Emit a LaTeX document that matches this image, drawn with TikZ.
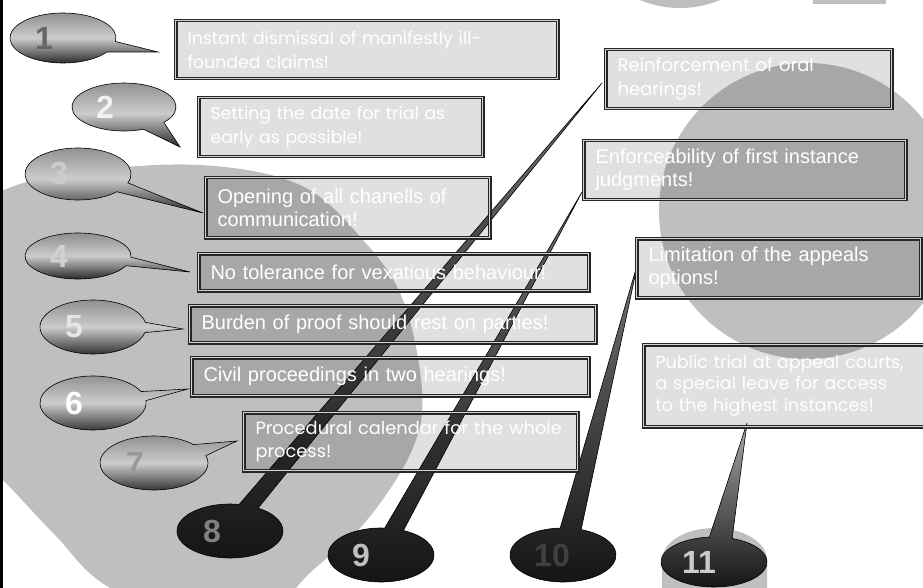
\documentclass[tikz,border=0pt]{standalone}
\usepackage{fontspec}
\setmainfont{Liberation Sans}
\newfontfamily\gothic{Poppins}
\begin{document}
\begin{tikzpicture}[x=1pt,y=1pt,
        callbox/.style={draw=black!85,double=gray!35,double distance=1.7pt,line width=1.1pt,fill=black,fill opacity=0.12,text opacity=1,text=white,anchor=north west,align=left,inner xsep=12pt,inner ysep=0pt},
        arialtext/.style={font=\fontsize{20}{23}\selectfont},
        gothictext/.style={font=\gothic\fontsize{17.3}{24}\selectfont},
        lightbubble/.style={draw=black,line width=0.6pt,top color=black!45,bottom color=black!85,middle color=black!20},
        darkbubble/.style={draw=black,line width=0.6pt,top color=black!55,bottom color=black!92},
        num/.style={font=\bfseries\fontsize{32}{32}\selectfont}]
    \useasboundingbox (0,0) rectangle (923,-588);
    \clip (0,0) rectangle (923,-588);
    \fill[white] (0,0) rectangle (923,-588);
    \fill[gray!50] plot[smooth cycle,tension=0.6] coordinates {(-60,-240) (0,-192) (80,-172) (200,-165) (300,-185) (363,-240) (403,-300) (422,-390) (412,-450) (367,-520) (313,-570) (230,-640) (110,-588) (55,-535) (0,-477) (-60,-420)};
    \fill[gray!50] (807,-211) circle[radius=148];
    \fill[gray!50] (680,96) circle[radius=104];
    \fill[gray!50] (813,0) rectangle (886,-4);
    \fill[gray!50] (662,-600) -- (662,-560) arc[start angle=180,end angle=0,x radius=52.5,y radius=32] -- (767,-600) -- cycle;
    \fill[black] (0,0) rectangle (3,-588);

    \coordinate (c1) at (63,-38);    \coordinate (t1) at (158,-52);
    \coordinate (c2) at (124,-107);  \coordinate (t2) at (180,-147);
    \coordinate (c3) at (78,-174);   \coordinate (t3) at (203,-213);
    \coordinate (c4) at (78,-256);   \coordinate (t4) at (190,-272);
    \coordinate (c5) at (93,-327);   \coordinate (t5) at (183,-329);
    \coordinate (c6) at (93,-403);   \coordinate (t6) at (188,-389);
    \coordinate (c7) at (154,-463);  \coordinate (t7) at (237,-441);
    \coordinate (c8) at (230,-531);  \coordinate (t8) at (602,-83);
    \coordinate (c9) at (381,-555);  \coordinate (t9) at (582,-192);
    \coordinate (c10) at (563,-555); \coordinate (t10) at (638,-262);
    \coordinate (c11) at (714,-562); \coordinate (t11) at (747,-423);

    \draw[lightbubble] (c1) ++(-8:53 and 25) arc[start angle=-8,end angle=326,x radius=53,y radius=25] -- (t1) -- cycle;
    \draw[lightbubble] (c2) ++(-40:52 and 24) arc[start angle=-40,end angle=292,x radius=52,y radius=24] -- (t2) -- cycle;
    \draw[lightbubble] (c3) ++(-20:53 and 26) arc[start angle=-20,end angle=317,x radius=53,y radius=26] -- (t3) -- cycle;
    \draw[lightbubble] (c4) ++(-3:53 and 23) arc[start angle=-3,end angle=335,x radius=53,y radius=23] -- (t4) -- cycle;
    \draw[lightbubble] (c5) ++(10:53 and 27) arc[start angle=10,end angle=348,x radius=53,y radius=27] -- (t5) -- cycle;
    \draw[lightbubble] (c6) ++(25:53 and 27) arc[start angle=25,end angle=365,x radius=53,y radius=27] -- (t6) -- cycle;
    \draw[lightbubble] (c7) ++(43:54 and 27) arc[start angle=43,end angle=376,x radius=54,y radius=27] -- (t7) -- cycle;
    \draw[darkbubble] (c8) ++(80:53 and 27) arc[start angle=80,end angle=418,x radius=53,y radius=27] -- (t8) -- cycle;
    \draw[darkbubble] (c9) ++(86:53 and 27) arc[start angle=86,end angle=425,x radius=53,y radius=27] -- (t9) -- cycle;
    \draw[darkbubble] (c10) ++(93:53 and 27) arc[start angle=93,end angle=430,x radius=53,y radius=27] -- (t10) -- cycle;
    \draw[darkbubble,top color=black!35] (c11) ++(95:53 and 25) arc[start angle=95,end angle=430,x radius=53,y radius=25] -- (t11) -- cycle;

    \node[num,text=black!60] (n1) at ([xshift=-19pt]c1) {1};
    \node[num,text=black!5] (n2) at ([xshift=-19pt]c2) {2};
    \node[num,text=black!20] (n3) at ([xshift=-19pt]c3) {3};
    \node[num,text=black!18] (n4) at ([xshift=-19pt]c4) {4};
    \node[num,text=black!10] (n5) at ([xshift=-19pt]c5) {5};
    \node[num,text=white] (n6) at ([xshift=-19pt]c6) {6};
    \node[num,text=black!40] (n7) at ([xshift=-19pt]c7) {7};
    \node[num,text=black!50] (n8) at ([xshift=-18pt]c8) {8};
    \node[num,text=black!25] (n9) at ([xshift=-20pt]c9) {9};
    \node[num,text=black!75] (n10) at ([xshift=-11pt]c10) {10};
    \node[num,text=black!20] (n11) at ([xshift=-15pt]c11) {11};

    \node[callbox,gothictext,text width=358pt,minimum height=58pt] (r1) at (175,-20) {Instant dismissal of manifestly ill-\\founded claims!};
    \node[callbox,gothictext,text width=260pt,minimum height=59pt] (r2) at (198,-97) {Setting the date for trial as\\early as possible!};
    \node[callbox,arialtext,text width=260pt,minimum height=60pt] (r3) at (205,-177) {Opening of all chanells of\\communication!};
    \node[callbox,arialtext,text width=366pt,minimum height=37pt] (r4) at (198,-253) {No tolerance for vexatious behaviour!};
    \node[callbox,arialtext,text width=382pt,minimum height=37pt] (r5) at (189,-305) {Burden of proof should rest on parties!};
    \node[callbox,arialtext,text width=373pt,minimum height=38pt] (r6) at (191,-357) {Civil proceedings in two hearings!};
    \node[callbox,font=\gothic\fontsize{17.8}{23}\selectfont,text width=310pt,minimum height=58pt] (r7) at (243,-412) {\mbox{Procedural calendar for the whole}\\process!};
    \node[callbox,font=\gothic\fontsize{18}{24}\selectfont,text width=262pt,minimum height=59pt] (r8) at (605,-49) {Reinforcement of oral\\hearings!};
    \node[callbox,arialtext,text width=298pt,minimum height=59pt] (r9) at (583,-140) {Enforceability of first instance\\judgments!};
    \node[callbox,arialtext,text width=260pt,minimum height=59pt] (r10) at (636,-238) {Limitation of the appeals\\options!};
    \node[callbox,font=\gothic\fontsize{17.5}{21.5}\selectfont,text width=261pt,minimum height=82pt] (r11) at (643,-344) {Public trial at appeal courts,\\a special leave for access\\to the highest instances!};
\end{tikzpicture}
\end{document}
